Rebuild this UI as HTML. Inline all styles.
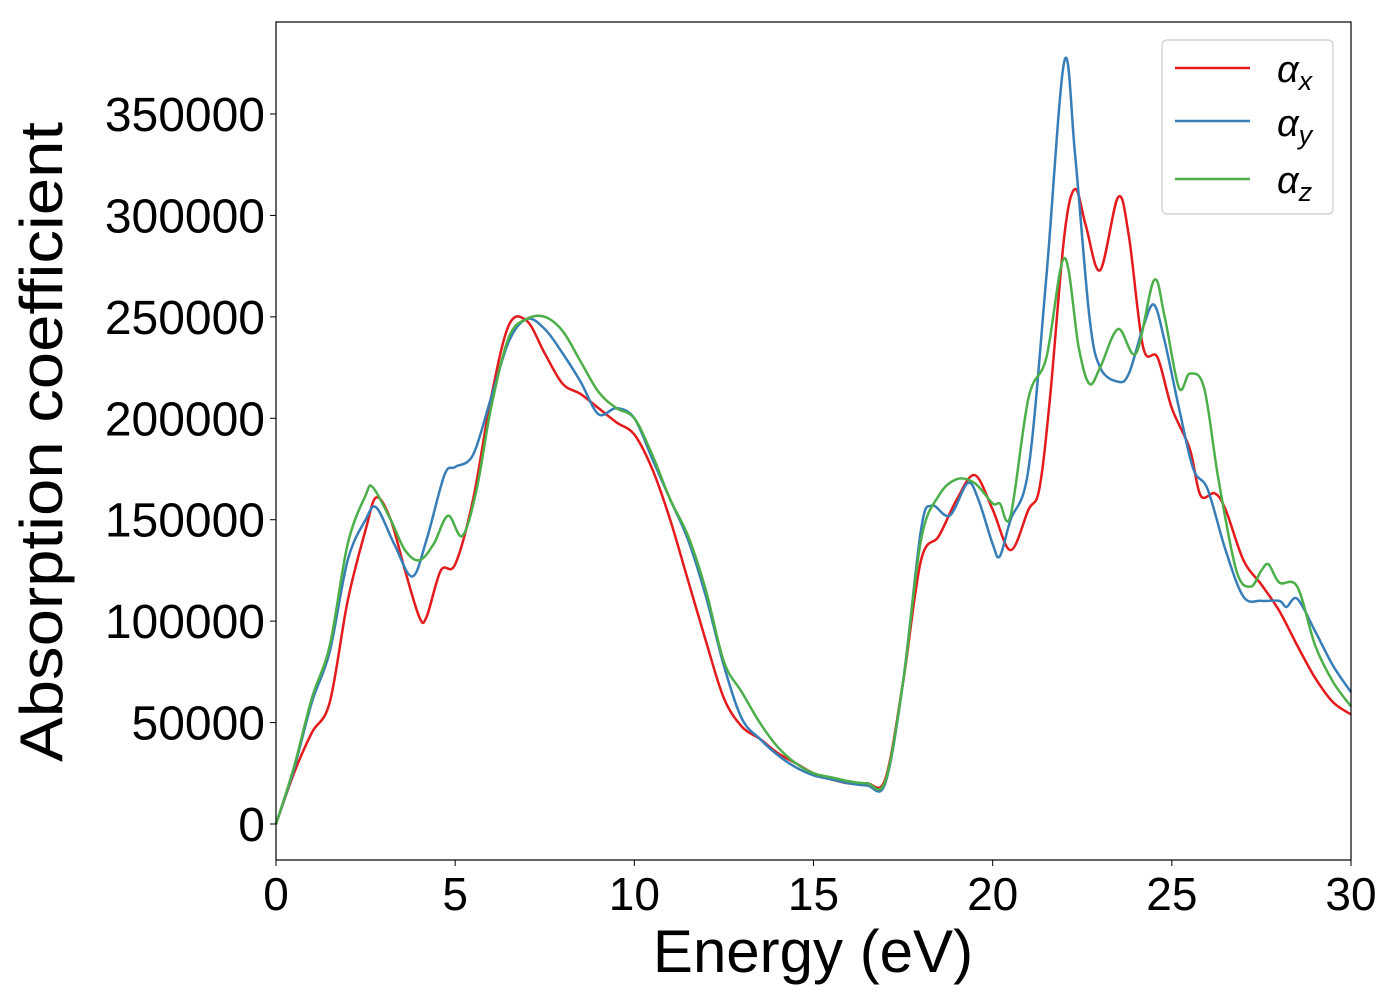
<!DOCTYPE html>
<html><head><meta charset="utf-8"><style>body{margin:0;background:#fff}svg{display:block}text{font-family:"Liberation Sans","DejaVu Sans",sans-serif}</style></head>
<body>
<svg id="chart" width="1400" height="1000" xmlns="http://www.w3.org/2000/svg">
<rect width="1400" height="1000" fill="#fff"/>
<g id="plot"></g>
<rect x="276" y="22" width="1075" height="838" fill="none" stroke="#000" stroke-width="1.2"/>
<g id="ticks"></g>
<text x="813" y="972" font-size="60" text-anchor="middle">Energy (eV)</text>
<text transform="translate(62,442) rotate(-90)" font-size="60" text-anchor="middle" textLength="640" lengthAdjust="spacingAndGlyphs">Absorption coefficient</text>
<g>
<rect x="1162" y="40" width="171" height="174" rx="5" fill="#fff" fill-opacity="0.8" stroke="#ccc" stroke-width="1.2"/>
<line x1="1175" y1="68" x2="1250" y2="68" stroke="#e41a1c" stroke-width="2.5"/>
<line x1="1175" y1="121" x2="1250" y2="121" stroke="#377eb8" stroke-width="2.5"/>
<line x1="1175" y1="179" x2="1250" y2="179" stroke="#4daf4a" stroke-width="2.5"/>
<text x="1277" y="82" font-size="38" font-style="italic">α<tspan font-size="27" dy="8">x</tspan></text>
<text x="1277" y="136" font-size="38" font-style="italic">α<tspan font-size="27" dy="8">y</tspan></text>
<text x="1277" y="193" font-size="38" font-style="italic">α<tspan font-size="27" dy="8">z</tspan></text>
</g>
</svg>
<script>
const xTicks=[0,5,10,15,20,25,30];
const yTicks=[0,50000,100000,150000,200000,250000,300000,350000];
const redE=[0,0.5,1,1.5,2,2.5,2.8,3.2,3.6,4,4.2,4.6,5,5.5,6,6.5,7,7.5,8,8.5,9,9.5,10,10.5,11,11.5,12,12.5,13,13.5,14,14.5,15,15.5,16,16.5,17,17.5,18,18.5,19,19.5,20,20.5,21,21.3,21.6,22,22.3,22.6,23,23.5,23.8,24.2,24.6,25,25.5,25.8,26.2,26.5,27,27.5,28,28.5,29,29.5,30];
const redV=[0,25000,45000,60000,110000,145000,161000,150000,125000,102000,102000,125000,128000,160000,210000,246000,248000,232000,217000,212000,205000,198000,192000,175000,150000,120000,90000,62000,48000,42000,35000,30000,25000,22000,20000,20000,22000,70000,130000,142000,160000,172000,155000,135000,155000,165000,210000,290000,313000,295000,273000,309000,290000,235000,230000,205000,185000,162000,163000,155000,130000,118000,105000,88000,72000,60000,54000];
const blueE=[0,0.5,1,1.5,2,2.5,2.8,3.3,3.8,4.2,4.7,5,5.5,6,6.5,7,7.5,8,8.5,9,9.5,10,10.5,11,11.5,12,12.5,13,13.5,14,14.5,15,15.5,16,16.5,17,17.5,18,18.3,18.8,19.3,19.6,20,20.2,20.5,21,21.5,22,22.3,22.7,23,23.5,23.8,24.2,24.5,24.8,25.2,25.6,26,26.5,27,27.5,28,28.2,28.5,29,29.5,30];
const blueV=[0,27000,60000,85000,130000,150000,156000,138000,122000,140000,172000,176000,182000,210000,238000,249000,244000,232000,218000,202000,205000,200000,180000,160000,140000,112000,78000,52000,42000,34000,28000,24000,22000,20000,19000,20000,70000,145000,157000,152000,168000,160000,138000,132000,150000,175000,270000,376000,330000,250000,225000,218000,222000,245000,256000,238000,205000,175000,165000,135000,112000,110000,110000,107000,111000,95000,78000,65000];
const greenE=[0,0.5,1,1.5,2,2.5,2.7,3.2,3.6,4,4.4,4.8,5.2,5.6,6,6.5,7,7.5,8,8.5,9,9.5,10,10.5,11,11.5,12,12.5,13,13.5,14,14.5,15,15.5,16,16.5,17,17.5,18,18.5,19,19.5,20,20.2,20.5,21,21.5,22,22.4,22.7,23,23.5,24,24.5,24.8,25.2,25.5,25.9,26.3,26.8,27.2,27.5,27.7,28,28.5,29,29.5,30];
const greenV=[0,28000,62000,88000,138000,162000,166000,150000,135000,130000,138000,152000,142000,165000,205000,240000,249000,250000,243000,228000,213000,205000,200000,182000,160000,142000,115000,80000,65000,50000,38000,30000,25000,23000,21000,20000,21000,70000,140000,162000,170000,168000,158000,158000,152000,210000,230000,279000,235000,217000,225000,244000,232000,268000,250000,215000,222000,215000,170000,125000,117000,125000,128000,119000,117000,88000,70000,58000];
const X0=276,X1=1351,Y0=824,PPV=(824-114)/350000;
const sx=e=>X0+(e-0)/30*(X1-X0);
const sy=v=>Y0-v*PPV;
const NS='http://www.w3.org/2000/svg';
function path(E,V){const p=E.map((e,i)=>[sx(e),sy(V[i])]);let d=`M${p[0][0]},${p[0][1]}`;
for(let i=0;i<p.length-1;i++){const a=p[Math.max(0,i-1)],b=p[i],c=p[i+1],f=p[Math.min(p.length-1,i+2)];
d+=` C${b[0]+(c[0]-a[0])/6},${b[1]+(c[1]-a[1])/6} ${c[0]-(f[0]-b[0])/6},${c[1]-(f[1]-b[1])/6} ${c[0]},${c[1]}`;}return d;}
const plot=document.getElementById('plot');
[[redE,redV,'#e41a1c','series-alpha-x'],[blueE,blueV,'#377eb8','series-alpha-y'],[greenE,greenV,'#4daf4a','series-alpha-z']].forEach(s=>{
const el=document.createElementNS(NS,'path');el.setAttribute('d',path(s[0],s[1]));el.setAttribute('fill','none');el.setAttribute('stroke',s[2]);el.setAttribute('stroke-width','2.5');


plot.appendChild(el);});
const tk=document.getElementById('ticks');
xTicks.forEach(t=>{const l=document.createElementNS(NS,'line');l.setAttribute('x1',sx(t));l.setAttribute('x2',sx(t));l.setAttribute('y1',860);l.setAttribute('y2',866);l.setAttribute('stroke','#000');


tk.appendChild(l);
const tx=document.createElementNS(NS,'text');tx.setAttribute('x',sx(t));tx.setAttribute('y',910);tx.setAttribute('font-size','46');tx.setAttribute('text-anchor','middle');tx.textContent=t;


tk.appendChild(tx);});
yTicks.forEach(t=>{const l=document.createElementNS(NS,'line');l.setAttribute('x1',270);l.setAttribute('x2',276);l.setAttribute('y1',sy(t));l.setAttribute('y2',sy(t));l.setAttribute('stroke','#000');


tk.appendChild(l);
const tx=document.createElementNS(NS,'text');tx.setAttribute('x',265);tx.setAttribute('y',sy(t)+17);tx.setAttribute('font-size','48');tx.setAttribute('text-anchor','end');tx.textContent=t;


tk.appendChild(tx);});
</script>
</body></html>
